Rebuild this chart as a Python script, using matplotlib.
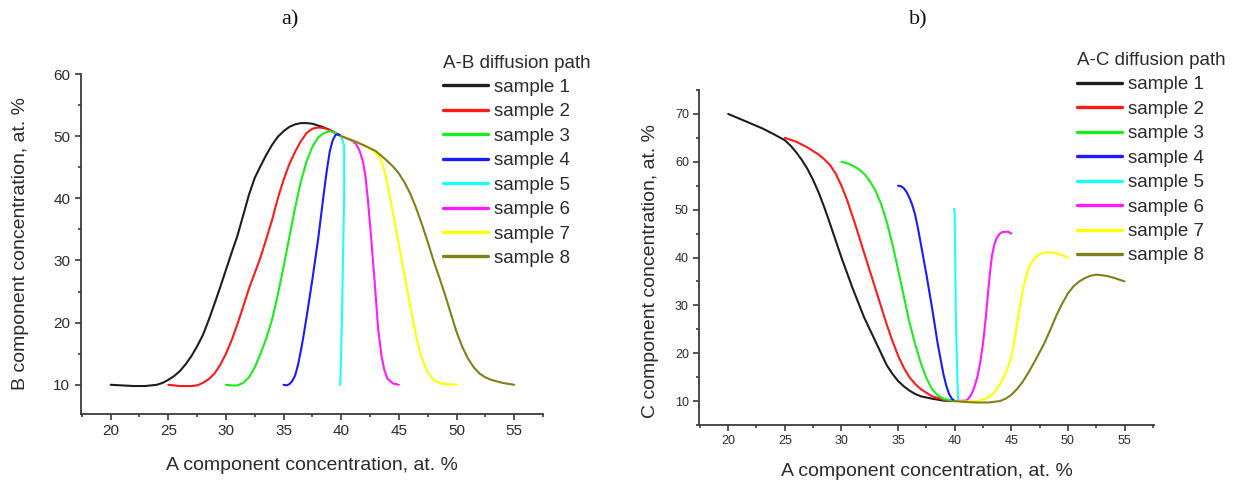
import matplotlib.pyplot as plt
from matplotlib.ticker import MultipleLocator

plt.rcParams['font.family'] = ['Liberation Sans', 'DejaVu Sans']

W, H = 1243, 487
TEXT = '#2b2b2b'

labels = ['sample 1', 'sample 2', 'sample 3', 'sample 4',
          'sample 5', 'sample 6', 'sample 7', 'sample 8']
colors = ['#1e1e1e', '#ff1a1a', '#1aee1a', '#1a1aff',
          '#1affff', '#ff1aff', '#ffff00', '#808019']

# ---- a) A-B diffusion path (B vs A, at. %)
ab_s1_x = [20, 21, 22, 23, 24, 24.5, 25, 25.5, 26, 26.5, 27, 27.5, 28, 28.5, 29, 29.5, 30, 30.5, 31,
           31.5, 32, 32.5, 33, 33.5, 34, 34.5, 35, 35.5, 36, 36.5, 37, 37.5, 38, 38.5, 39, 39.5, 40]
ab_s1_y = [10.0, 9.9, 9.8, 9.8, 10.0, 10.3, 10.8, 11.4, 12.2, 13.3, 14.6, 16.2, 18.0, 20.4, 23.0, 25.7,
           28.5, 31.3, 34.0, 37.3, 40.6, 43.3, 45.2, 47.0, 48.6, 49.9, 50.8, 51.5, 51.9, 52.1, 52.1,
           52.0, 51.7, 51.4, 51.0, 50.5, 50.0]
ab_s2_x = [25, 26, 27, 27.5, 28, 28.5, 29, 29.5, 30, 30.5, 31, 31.5, 32, 32.5, 33, 33.5, 34, 34.5,
           35, 35.5, 36, 36.5, 37, 37.5, 38, 38.5, 39, 39.5, 40]
ab_s2_y = [10.0, 9.8, 9.8, 9.9, 10.3, 10.9, 11.8, 13.2, 15.0, 17.2, 19.8, 22.6, 25.5, 28.0, 30.5, 33.5,
           36.5, 40.0, 43.0, 45.5, 47.5, 49.2, 50.5, 51.2, 51.4, 51.3, 51.0, 50.5, 50.0]
ab_s3_x = [30, 30.5, 31, 31.5, 32, 32.5, 33, 33.5, 34, 34.5, 35, 35.5, 36, 36.5, 37, 37.5, 38, 38.5,
           39, 39.5, 40]
ab_s3_y = [10.0, 9.9, 9.9, 10.3, 11.2, 12.8, 15.0, 17.5, 20.5, 24.5, 29.0, 33.8, 38.5, 42.7, 46.0, 48.3,
           49.8, 50.5, 50.8, 50.5, 50.0]
ab_s4_x = [35, 35.25, 35.5, 35.75, 36, 36.25, 36.5, 36.75, 37, 37.5, 38, 38.5, 38.75, 39, 39.25, 39.5,
           39.75, 40]
ab_s4_y = [10.0, 9.9, 10.1, 10.6, 11.5, 13.2, 15.5, 18.1, 21.0, 27.0, 33.5, 41.0, 44.5, 47.5, 49.3, 50.2,
           50.3, 50.0]
ab_s5_x = [40.0, 40.25, 40.25, 40.15, 40.05, 39.95, 39.9]
ab_s5_y = [50.0, 48.5, 40.0, 30.0, 20.0, 12.0, 10.0]
ab_s6_x = [40, 40.5, 41, 41.3, 41.6, 41.9, 42.1, 42.3, 42.6, 42.9, 43.2, 43.5, 43.75, 44, 44.5, 45]
ab_s6_y = [50.0, 49.6, 49.2, 48.7, 47.6, 45.8, 43.5, 40.0, 33.5, 26.5, 19.0, 14.5, 12.3, 11.0, 10.2, 10.0]
ab_s7_x = [40, 41, 42, 42.5, 43, 43.3, 43.6, 43.9, 44.2, 44.5, 45, 45.5, 46, 46.5, 46.75, 47, 47.5,
           48, 48.5, 49, 50]
ab_s7_y = [50.0, 49.3, 48.5, 48.0, 47.3, 46.7, 45.3, 43.3, 40.5, 37.5, 32.5, 27.5, 22.5, 17.8, 15.8,
           14.2, 12.0, 10.8, 10.3, 10.1, 10.0]
ab_s8_x = [40, 41, 42, 43, 44, 44.5, 45, 45.5, 46, 46.5, 47, 47.5, 48, 48.5, 49, 49.5, 50, 50.5, 51,
           51.5, 52, 52.5, 53, 54, 55]
ab_s8_y = [50.0, 49.3, 48.5, 47.6, 46.0, 45.1, 44.0, 42.5, 40.7, 38.4, 35.8, 33.0, 30.0, 27.3, 24.5,
           21.5, 18.5, 16.1, 14.2, 12.8, 11.8, 11.2, 10.8, 10.3, 10.0]

# ---- b) A-C diffusion path (C vs A, at. %)
ac_s1_x = [20, 21, 22, 23, 24, 25, 25.5, 26, 26.5, 27, 27.5, 28, 28.5, 29, 29.5, 30, 31, 32, 33, 33.5,
           34, 34.5, 35, 35.5, 36, 36.5, 37, 38, 39, 40]
ac_s1_y = [70.0, 69.0, 68.0, 67.0, 65.8, 64.5, 63.4, 62.0, 60.4, 58.5, 56.2, 53.5, 50.4, 47.0, 43.5,
           40.0, 33.5, 27.5, 22.5, 20.0, 17.5, 15.7, 14.2, 13.1, 12.2, 11.5, 11.0, 10.5, 10.1, 10.0]
ac_s2_x = [25, 26, 27, 28, 28.5, 29, 29.5, 30, 30.5, 31, 31.5, 32, 33, 34, 34.5, 35, 35.5, 36, 36.5,
           37, 38, 39, 40]
ac_s2_y = [65.0, 64.2, 63.0, 61.5, 60.5, 59.3, 57.5, 55.0, 52.0, 48.5, 44.8, 41.0, 33.5, 26.0, 22.6,
           19.5, 17.0, 15.0, 13.6, 12.5, 11.0, 10.3, 10.0]
ac_s3_x = [30, 30.5, 31, 31.5, 32, 32.5, 33, 33.5, 34, 34.5, 35, 35.5, 36, 36.5, 37, 37.5, 38, 38.5,
           39, 40]
ac_s3_y = [60.0, 59.7, 59.2, 58.5, 57.5, 56.0, 54.0, 51.2, 47.5, 42.8, 37.5, 32.0, 26.5, 22.0, 18.0,
           14.8, 12.5, 11.2, 10.5, 10.0]
ac_s4_x = [35, 35.25, 35.5, 35.75, 36, 36.25, 36.5, 36.75, 37, 37.5, 38, 38.5, 39, 39.25, 39.5, 39.75,
           40]
ac_s4_y = [55.0, 54.9, 54.5, 53.7, 52.5, 51.0, 49.0, 46.2, 43.0, 36.5, 29.5, 22.0, 15.7, 13.3, 11.5,
           10.5, 10.0]
ac_s5_x = [39.95, 40.0, 40.05, 40.1, 40.2, 40.3]
ac_s5_y = [50.2, 49.0, 40.0, 28.0, 18.0, 10.0]
ac_s6_x = [40, 41, 41.25, 41.5, 41.75, 42, 42.25, 42.5, 42.75, 43, 43.15, 43.3, 43.5, 43.7, 43.95,
           44.2, 44.7, 45]
ac_s6_y = [10.0, 10.1, 10.6, 11.5, 13.0, 15.0, 18.0, 22.0, 27.5, 34.0, 37.5, 40.5, 42.7, 44.0, 44.9,
           45.3, 45.4, 45.0]
ac_s7_x = [40, 41, 42, 42.5, 43, 43.5, 44, 44.5, 45, 45.5, 46, 46.25, 46.5, 46.75, 47, 47.5, 47.9,
           48.3, 48.7, 49, 49.5, 50]
ac_s7_y = [10.0, 9.9, 10.0, 10.3, 10.8, 11.8, 13.5, 15.8, 19.0, 26.0, 33.0, 35.5, 37.5, 38.8, 39.7,
           40.7, 41.0, 41.1, 41.0, 40.9, 40.5, 40.0]
ac_s8_x = [40, 41, 42, 43, 44, 44.5, 45, 45.5, 46, 46.5, 47, 47.5, 48, 48.5, 49, 49.5, 50, 50.5, 51,
           51.5, 52, 52.5, 53, 53.5, 54, 54.5, 55]
ac_s8_y = [10.0, 9.8, 9.7, 9.7, 10.0, 10.5, 11.3, 12.5, 14.0, 15.9, 18.0, 20.2, 22.5, 25.2, 28.0,
           30.4, 32.5, 34.0, 35.0, 35.7, 36.2, 36.4, 36.3, 36.1, 35.8, 35.4, 35.0]


def style_axes(ax, tick_size):
    ax.spines['top'].set_visible(False)
    ax.spines['right'].set_visible(False)
    for s in ('left', 'bottom'):
        ax.spines[s].set_color('#3a3a3a')
        ax.spines[s].set_linewidth(1.3)
    ax.xaxis.set_major_locator(MultipleLocator(5))
    ax.xaxis.set_minor_locator(MultipleLocator(2.5))
    ax.yaxis.set_major_locator(MultipleLocator(10))
    ax.yaxis.set_minor_locator(MultipleLocator(5))
    ax.tick_params(which='major', direction='out', length=4, width=1.2,
                   color='#3a3a3a', labelsize=tick_size, labelcolor=TEXT)
    ax.tick_params(which='minor', direction='out', length=2.5, width=1.2, color='#3a3a3a')


def draw_panel(ax, xs, ys, title, legend_pos):
    handles = []
    for x, y, c, lab in zip(xs, ys, colors, labels):
        ln, = ax.plot(x, y, color=c, lw=1.5, label=lab,
                      solid_capstyle='round', solid_joinstyle='round')
        handles.append(ln)
    leg = ax.legend(handles=handles, title=title, loc='upper left',
                    bbox_to_anchor=legend_pos, bbox_transform=fig.transFigure,
                    frameon=False, fontsize=13.5, title_fontsize=13.5,
                    handlelength=2.4, handletextpad=0.3, labelspacing=0.39,
                    borderpad=0, borderaxespad=0, alignment='left')
    for t in leg.get_texts():
        t.set_color(TEXT)
    leg.get_title().set_color(TEXT)
    for h in leg.legend_handles:
        h.set_linewidth(2.4)


fig = plt.figure(figsize=(W / 100, H / 100), dpi=100)

# panel a
ax1 = fig.add_axes([80.7 / W, 1 - 414 / H, (543 - 80.7) / W, (414 - 74) / H])
draw_panel(ax1,
           [ab_s1_x, ab_s2_x, ab_s3_x, ab_s4_x, ab_s5_x, ab_s6_x, ab_s7_x, ab_s8_x],
           [ab_s1_y, ab_s2_y, ab_s3_y, ab_s4_y, ab_s5_y, ab_s6_y, ab_s7_y, ab_s8_y],
           'A-B diffusion path', (443 / W, 1 - 54.5 / H))
ax1.set_xlim(17.4, 57.5)
ax1.set_ylim(5.3, 60)
style_axes(ax1, 11)
ax1.set_xlabel('A component concentration, at. %', fontsize=14, color=TEXT, va='center')
ax1.xaxis.set_label_coords(0.5, -0.15)
ax1.set_ylabel('B component concentration, at. %', fontsize=14, color=TEXT, va='center')
ax1.yaxis.set_label_coords(-0.13, 0.5)

# panel b
ax2 = fig.add_axes([699.3 / W, 1 - 425 / H, (1154 - 699.3) / W, (425 - 90) / H])
draw_panel(ax2,
           [ac_s1_x, ac_s2_x, ac_s3_x, ac_s4_x, ac_s5_x, ac_s6_x, ac_s7_x, ac_s8_x],
           [ac_s1_y, ac_s2_y, ac_s3_y, ac_s4_y, ac_s5_y, ac_s6_y, ac_s7_y, ac_s8_y],
           'A-C diffusion path', (1077 / W, 1 - 52 / H))
ax2.set_xlim(17.45, 57.6)
ax2.set_ylim(5, 75)
style_axes(ax2, 9)
ax2.set_xlabel('A component concentration, at. %', fontsize=14, color=TEXT, va='center')
ax2.xaxis.set_label_coords(0.5, -0.14)
ax2.set_ylabel('C component concentration, at. %', fontsize=14, color=TEXT, va='center')
ax2.yaxis.set_label_coords(-0.108, 0.46)

fig.text(290 / W, 1 - 20 / H, 'a)', family=['Liberation Serif', 'DejaVu Serif'],
         fontsize=16, ha='center', va='center', color='#111111')
fig.text(918 / W, 1 - 20 / H, 'b)', family=['Liberation Serif', 'DejaVu Serif'],
         fontsize=16, ha='center', va='center', color='#111111')

fig.savefig('out.png', dpi=100)
